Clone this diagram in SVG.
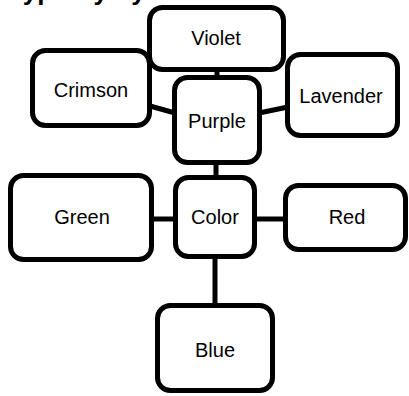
<svg xmlns="http://www.w3.org/2000/svg" width="409" height="396" viewBox="0 0 409 396">
<style>
.n rect{fill:#fff;stroke:#000;stroke-width:5}
.n text{font-family:"Liberation Sans",Arial,sans-serif;font-size:20px;text-anchor:middle;fill:#000}
.c line{stroke:#000;stroke-width:5}
.t{font-family:"Liberation Sans",Arial,sans-serif;font-size:26px;font-weight:bold;fill:#000}
</style>
<rect width="409" height="396" fill="#fff"/>
<text class="t" x="4" y="-0.5">Hypernymy</text>
<g class="c" id="connectors">
<line x1="217" y1="69" x2="217" y2="78"/>
<line x1="150" y1="106" x2="175" y2="113"/>
<line x1="259" y1="113" x2="288" y2="107"/>
<line x1="216" y1="162" x2="216" y2="178"/>
<line x1="151" y1="219" x2="176" y2="219"/>
<line x1="254" y1="219" x2="286" y2="219"/>
<line x1="215" y1="256" x2="215" y2="306"/>
</g>
<g class="n" id="violet"><rect x="149.5" y="7.5" width="134" height="62" rx="13"/><text x="216" y="45">Violet</text></g>
<g class="n" id="crimson"><rect x="32.5" y="50.5" width="117" height="75" rx="13"/><text x="91" y="97">Crimson</text></g>
<g class="n" id="lavender"><rect x="287.5" y="54.5" width="110" height="81" rx="13"/><text x="341" y="103">Lavender</text></g>
<g class="n" id="purple"><rect x="174.5" y="77.5" width="85" height="85" rx="13"/><text x="217" y="128">Purple</text></g>
<g class="n" id="color"><rect x="175.5" y="177.5" width="79" height="79" rx="13"/><text x="215" y="224">Color</text></g>
<g class="n" id="green"><rect x="10.5" y="175.5" width="141" height="84" rx="13"/><text x="82" y="224">Green</text></g>
<g class="n" id="red"><rect x="285.5" y="185.5" width="120" height="64" rx="13"/><text x="347" y="224">Red</text></g>
<g class="n" id="blue"><rect x="157.5" y="305.5" width="115" height="85" rx="13"/><text x="215" y="357">Blue</text></g>
</svg>
